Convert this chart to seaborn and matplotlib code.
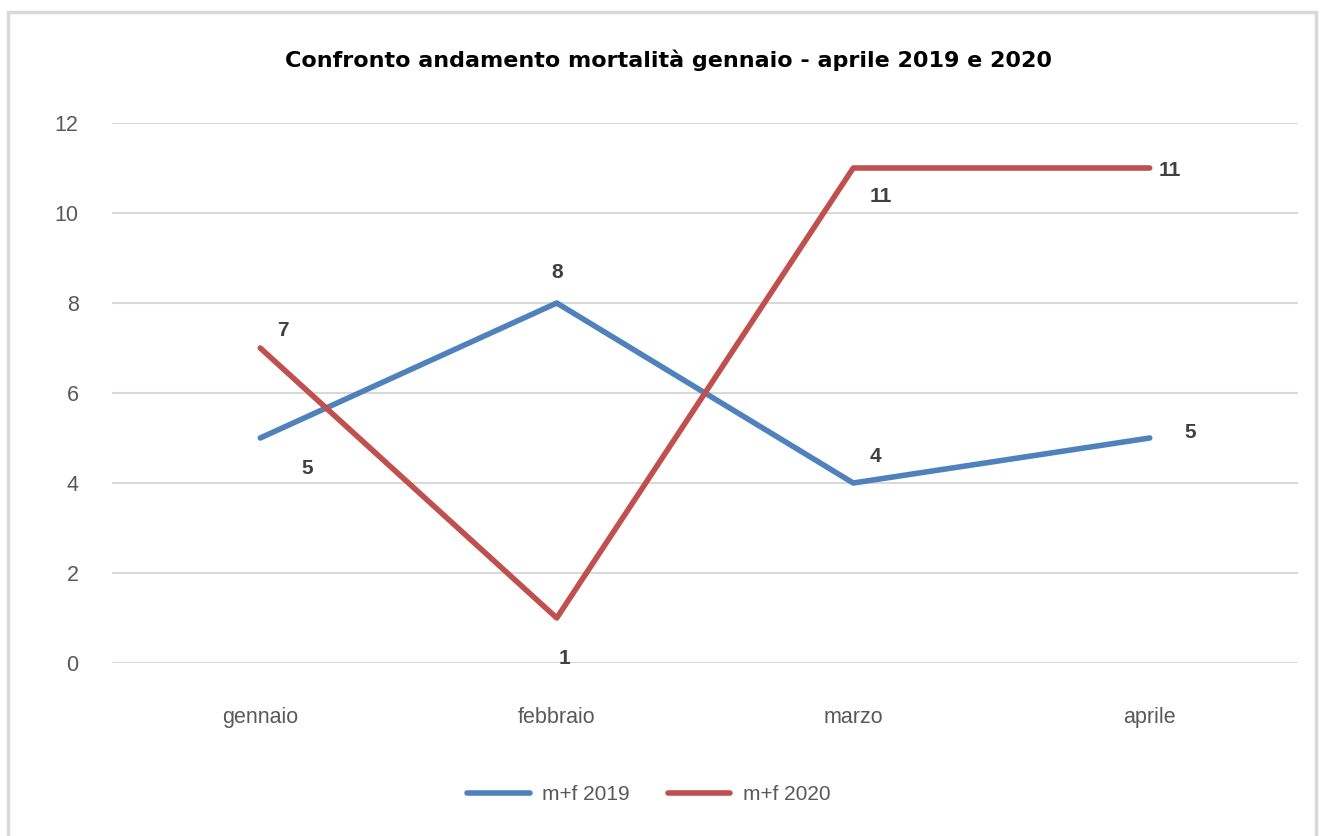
import pandas as pd
import matplotlib.pyplot as plt
import seaborn as sns
from matplotlib.patches import Rectangle

mesi = ['gennaio', 'febbraio', 'marzo', 'aprile']
morti_2019 = [5, 8, 4, 5]
morti_2020 = [7, 1, 11, 11]
serie = ['m+f 2019', 'm+f 2020']
yticks = [0, 2, 4, 6, 8, 10, 12]
COLORI = {'m+f 2019': '#4F81BD', 'm+f 2020': '#C0504D'}

df = pd.DataFrame({
    'mese': mesi * 2,
    'valore': morti_2019 + morti_2020,
    'serie': [serie[0]] * len(mesi) + [serie[1]] * len(mesi),
})

sns.set_style('white')
plt.rcParams['font.family'] = ['Liberation Sans', 'DejaVu Sans']

fig = plt.figure(figsize=(13.24, 8.36), dpi=100)
ax = fig.add_axes([112 / 1324, 1 - 663 / 836, 1186 / 1324, 540 / 836])

# cornice grigia del grafico
fig.patches.append(Rectangle((8 / 1324, -0.1), 1308 / 1324, 1.1 - 12 / 836,
                             transform=fig.transFigure, fill=False,
                             edgecolor='#D9D9D9', linewidth=2.5))

sns.lineplot(data=df, x='mese', y='valore', hue='serie', palette=COLORI,
             linewidth=4, sort=False, ax=ax, legend=False)

ax.set_xlim(-0.5, 3.5)
ax.set_ylim(0, 12)
ax.set_yticks(yticks)
ax.yaxis.grid(True, color='#D9D9D9', linewidth=1.5)
ax.set_axisbelow(True)
for s in ax.spines.values():
    s.set_visible(False)
ax.tick_params(axis='both', length=0, labelsize=15.5, colors='#595959')
ax.tick_params(axis='y', pad=24)
ax.tick_params(axis='x', pad=32)
ax.set_xlabel('')
ax.set_ylabel('')

# etichette dei dati
off_2019 = [(47, -30), (0, 30), (22, 27), (40, 5)]
off_2020 = [(23, 17), (8, -40), (28, -28), (20, -3)]
for vals, offs in [(morti_2019, off_2019), (morti_2020, off_2020)]:
    for i, (v, o) in enumerate(zip(vals, offs)):
        ax.annotate(str(v), (i, v), xytext=o, textcoords='offset pixels',
                    ha='center', va='center', fontsize=15, fontweight='bold',
                    color='#404040')

fig.text(0.505, 1 - 60 / 836, 'Confronto andamento mortalità gennaio - aprile 2019 e 2020',
         ha='center', va='center', fontsize=16, fontweight='bold', color='black',
         family='DejaVu Sans')

handles = [plt.Line2D([], [], color=COLORI[s], linewidth=4) for s in serie]
fig.legend(handles, serie, loc='center', bbox_to_anchor=(0.49, 1 - 795 / 836),
           ncol=2, frameon=False, fontsize=15, handlelength=3.0,
           handletextpad=0.6, columnspacing=1.8, labelcolor='#595959')

plt.savefig('out.png', dpi=100)
